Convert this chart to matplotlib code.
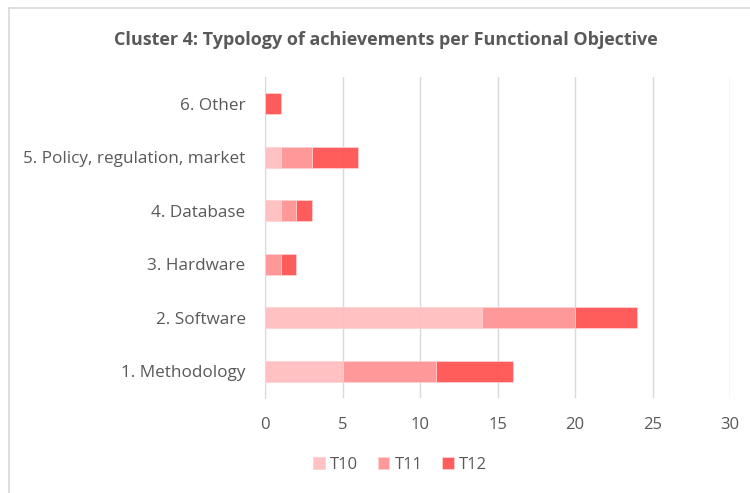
import matplotlib
matplotlib.use("Agg")
import matplotlib.pyplot as plt
from matplotlib.lines import Line2D
import numpy as np

categories = ["1. Methodology", "2. Software", "3. Hardware", "4. Database",
              "5. Policy, regulation, market", "6. Other"]
series_names = ["T10", "T11", "T12"]
t10 = [5, 14, 0, 1, 1, 0]
t11 = [6, 6, 1, 1, 2, 0]
t12 = [5, 4, 1, 1, 3, 1]
xticks = [0, 5, 10, 15, 20, 25, 30]
colors = ["#FFBFC0", "#FF9696", "#FF5757"]

plt.rcParams['font.family'] = ['Open Sans', 'DejaVu Sans']
txt = "#595959"

fig = plt.figure(figsize=(7.5, 4.93), dpi=100)
ax = fig.add_axes([265/750, 1-398/493, (730-265)/750, (398-77)/493])

y = np.arange(len(categories))
left = np.zeros(len(categories))
for name, vals, c in zip(series_names, [t10, t11, t12], colors):
    ax.barh(y, vals, left=left, height=0.4, color=c, label=name, zorder=3, alpha=0.97,
            edgecolor="#FFD0D0", linewidth=0.6)
    left += np.array(vals)

ax.set_xlim(0, 30)
ax.set_ylim(-0.5, len(categories) - 0.5)
ax.set_xticks(xticks)
ax.set_yticks(y)
ax.set_yticklabels(categories)
ax.tick_params(axis='both', length=0, colors=txt, labelsize=12)
ax.tick_params(axis='y', labelsize=12.3, pad=14)
ax.tick_params(axis='x', pad=14)
ax.grid(axis='x', color="#D9D9D9", linewidth=1, zorder=0)
for s in ["top", "right", "bottom"]:
    ax.spines[s].set_visible(False)
ax.spines["left"].set_color("#D9D9D9")
ax.set_axisbelow(True)

fig.text(386/750, 1-40/493, "Cluster 4: Typology of achievements per Functional Objective",
         ha="center", va="center", fontsize=13, fontweight="bold", color=txt)

leg = fig.legend(loc="center", bbox_to_anchor=(400/750, 1-465/493), ncol=3, frameon=False,
                 fontsize=12, handlelength=0.7, handleheight=0.7, handletextpad=0.3,
                 columnspacing=1.2)
for t in leg.get_texts():
    t.set_color(txt)

fig.add_artist(Line2D([9/750, 9/750], [0, 1-8/493], color="#D9D9D9", lw=1.2, transform=fig.transFigure))
fig.add_artist(Line2D([9/750, 1], [1-8/493, 1-8/493], color="#D9D9D9", lw=1.2, transform=fig.transFigure))

fig.savefig("out.png", dpi=100)
